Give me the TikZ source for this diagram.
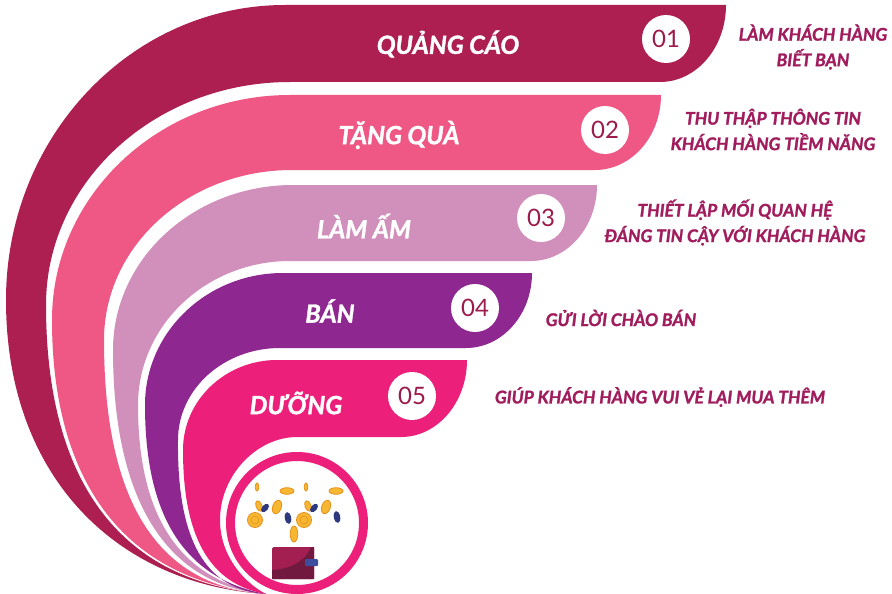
\documentclass[tikz,border=0pt]{standalone}
\usepackage{fontspec}
\setmainfont{Lato}
\newfontfamily\headfont{Lato}[BoldItalicFeatures={FakeBold=1.4}]
\definecolor{bandA}{HTML}{AD1E51}
\definecolor{bandB}{HTML}{EF5784}
\definecolor{bandC}{HTML}{D18FBB}
\definecolor{bandD}{HTML}{8E278F}
\definecolor{bandE}{HTML}{EC207A}
\definecolor{numc}{HTML}{9B1B4B}
\definecolor{descc}{HTML}{A01C5C}
\definecolor{gold}{HTML}{F7B733}
\definecolor{goldedge}{HTML}{E5921C}
\definecolor{navy}{HTML}{2F3A7E}
\definecolor{walletA}{HTML}{A31F52}
\definecolor{walletB}{HTML}{72193F}
\definecolor{clasp}{HTML}{3B4EA0}
\begin{document}
\begin{tikzpicture}[x=1pt,y=-1pt,
  barlabel/.style={text=white, font=\headfont\fontsize{25}{28}\selectfont\bfseries\itshape, inner sep=0pt},
  numdisc/.style={circle, fill=white, minimum size=48pt, inner sep=0pt, text=numc, font=\fontsize{24}{26}\selectfont},
  desc/.style={text=descc, font=\headfont\fontsize{17.4}{25.5}\selectfont\bfseries\itshape, align=center, inner sep=0pt},
  coin/.style={fill=gold, draw=goldedge, line width=0.8pt},
  darkcoin/.style={fill=navy}]
\useasboundingbox (0,0) rectangle (892,594);
\fill[white] (0,0) rectangle (892,594);
\begin{scope}
\clip (0,0) rectangle (892,594);
\coordinate (P) at (266,594);
% band 1
\fill[bandA] (P) .. controls (120,585) and (6,480) .. (6,300)
  .. controls (6,137) and (131,5) .. (285,5) -- (726,5)
  .. controls (726,47.5) and (696.5,82) .. (660,82) -- (290,82)
  .. controls (155,82) and (46,182) .. (46,305)
  .. controls (46,475) and (115,582) .. (P) -- cycle;
% band 2
\fill[bandB] (P) .. controls (115,580) and (52,470) .. (52,320)
  .. controls (52,196) and (158.5,95) .. (290,95) -- (661,95)
  .. controls (661,136.4) and (631.5,170) .. (595,170) -- (292,170)
  .. controls (188,170) and (104,246) .. (104,340)
  .. controls (104,490) and (150,586) .. (P) -- cycle;
% band 3
\fill[bandC] (P) .. controls (160,585) and (113,490) .. (113,350)
  .. controls (113,259) and (193.6,185) .. (293,185) -- (597,185)
  .. controls (597,227) and (567.5,261) .. (531,261) -- (290,261)
  .. controls (206,261) and (138,325.5) .. (138,405)
  .. controls (138,510) and (175,580) .. (P) -- cycle;
% band 4
\fill[bandD] (P) .. controls (180,578) and (145,510) .. (145,405)
  .. controls (145,332) and (206.8,273) .. (283,273) -- (532,273)
  .. controls (532,314.4) and (502.5,348) .. (466,348) -- (280,348)
  .. controls (223.7,348) and (178,389) .. (178,440)
  .. controls (177,540) and (205,590) .. (P) -- cycle;
% band 5
\fill[bandE] (P) .. controls (215,585) and (183,545) .. (183,450)
  .. controls (183,400) and (225.6,360) .. (277,360) -- (467,360)
  .. controls (467,402.5) and (437.5,437) .. (401,437) -- (297,437)
  .. controls (257,437) and (220,475) .. (220,520)
  .. controls (220,555) and (243,582) .. (P) -- cycle;
% ring around the icon
\draw[bandE, line width=9pt] (297,523) circle[radius=66.5pt];
\end{scope}

% falling coins
\fill[coin] (257,487) ellipse[x radius=1.8pt, y radius=4pt];
\fill[coin] (287,491) ellipse[x radius=7pt, y radius=3.3pt];
\fill[coin] (306,487) ellipse[x radius=1.8pt, y radius=4pt];
\fill[coin] (336,491) ellipse[x radius=7pt, y radius=3.3pt];
\fill[coin, rotate around={20:(259,506)}] (259,506) ellipse[x radius=3pt, y radius=5.5pt];
\fill[coin, rotate around={20:(308,506)}] (308,506) ellipse[x radius=3pt, y radius=5.5pt];
\fill[coin, rotate around={-20:(277,507)}] (277,507) ellipse[x radius=4.3pt, y radius=7pt];
\fill[coin, rotate around={-20:(326,507)}] (326,507) ellipse[x radius=4.3pt, y radius=7pt];
\fill[darkcoin, rotate around={-40:(265,508)}] (265,508) ellipse[x radius=3pt, y radius=5pt];
\fill[darkcoin, rotate around={-40:(314,508)}] (314,508) ellipse[x radius=3pt, y radius=5pt];
\fill[darkcoin, rotate around={10:(288,518)}] (288,518) ellipse[x radius=3.2pt, y radius=6pt];
\fill[darkcoin, rotate around={10:(337,517)}] (337,517) ellipse[x radius=3.2pt, y radius=6pt];
\fill[coin] (255,520) circle[radius=7.5pt];
\fill[coin] (304,520) circle[radius=7.5pt];
\fill[coin] (294,534) ellipse[x radius=3.8pt, y radius=8pt];
\draw[goldedge, line width=0.6pt] (255,520) circle[radius=4pt] (304,520) circle[radius=4pt];
% wallet
\fill[walletA, rounded corners=1.5pt] (272,547) rectangle (314,579);
\fill[walletB] (272,570) .. controls (292,569) and (306,560) .. (311,547) -- (314,547) -- (314,579) -- (272,579) -- cycle;
\fill[clasp, rounded corners=1pt] (305,559) rectangle (318,566);

% bar titles
\node[barlabel] (t1) at (448,44) {QUẢNG CÁO};
\node[barlabel] (t2) at (399,135) {TẶNG QUÀ};
\node[barlabel] (t3) at (364,226) {LÀM ẤM};
\node[barlabel] (t4) at (330,311) {BÁN};
\node[barlabel] (t5) at (296,403) {DƯỠNG};
% step numbers
\node[numdisc] (n1) at (666,39) {01};
\node[numdisc] (n2) at (605,130) {02};
\node[numdisc] (n3) at (541,218) {03};
\node[numdisc] (n4) at (475,308) {04};
\node[numdisc] (n5) at (412,396) {05};
% descriptions
\node[desc] (d1) at (813,47) {LÀM KHÁCH HÀNG\\BIẾT BẠN};
\node[desc] (d2) at (773,129.5) {THU THẬP THÔNG TIN\\KHÁCH HÀNG TIỀM NĂNG};
\node[desc] (d3) at (735,222.5) {THIẾT LẬP MỐI QUAN HỆ\\ĐÁNG TIN CẬY VỚI KHÁCH HÀNG};
\node[desc] (d4) at (621,318) {GỬI LỜI CHÀO BÁN};
\node[desc] (d5) at (660,397) {GIÚP KHÁCH HÀNG VUI VẺ LẠI MUA THÊM};
\end{tikzpicture}
\end{document}
